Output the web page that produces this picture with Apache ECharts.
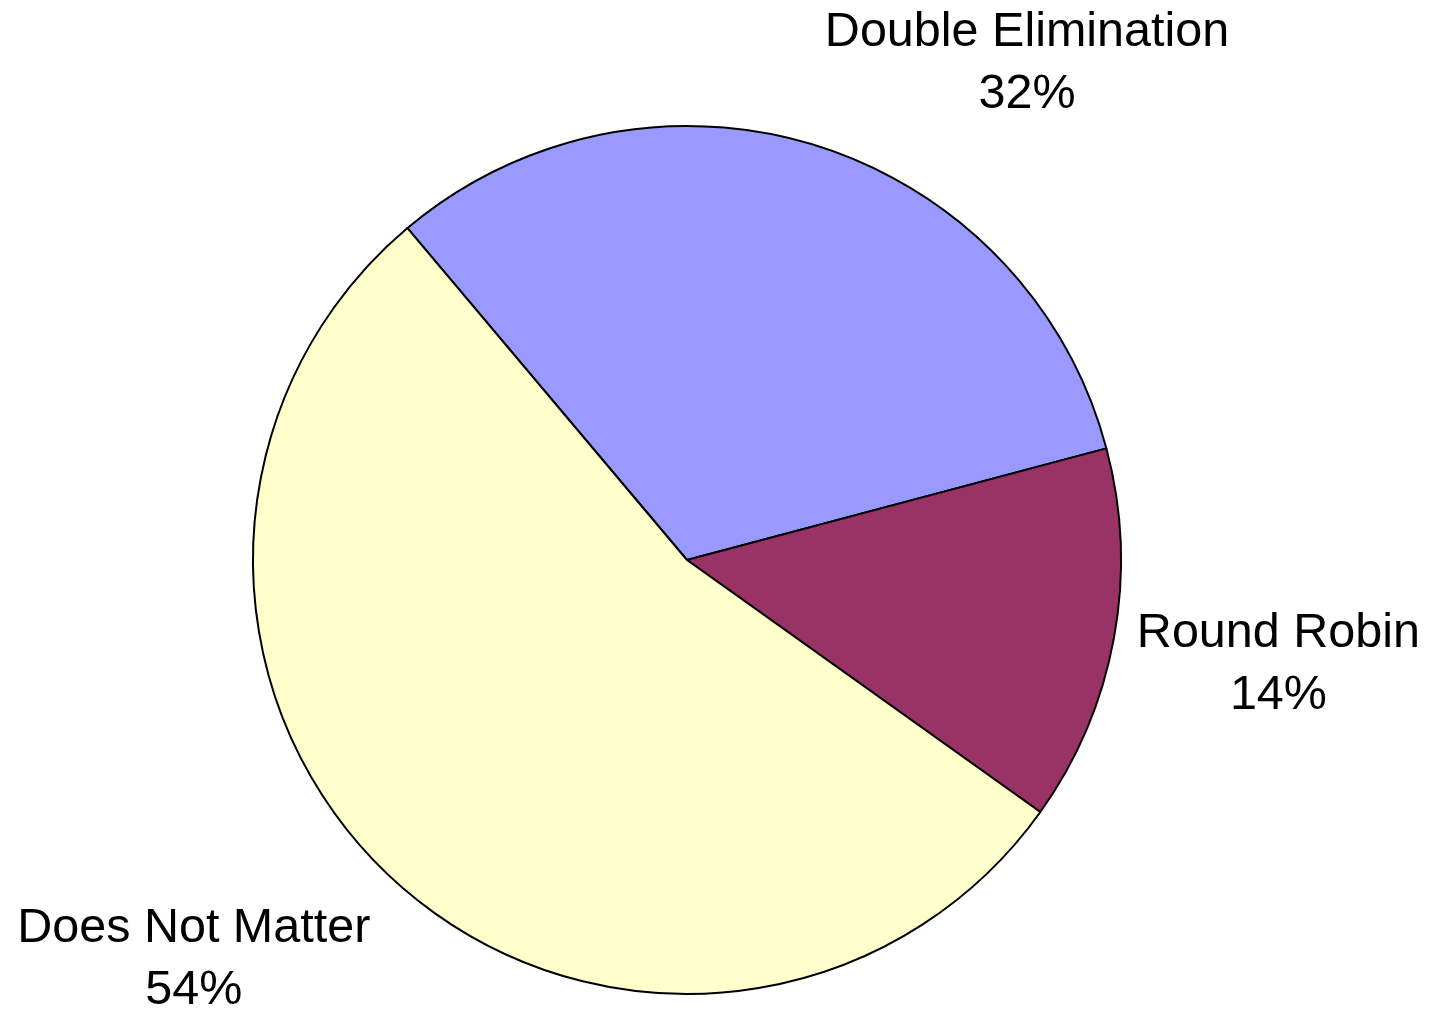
<!DOCTYPE html>
<html>
<head>
<meta charset="utf-8">
<title>Pie</title>
<script src="https://cdn.jsdelivr.net/npm/echarts@6/dist/echarts.min.js"></script>
<style>
    html, body { margin: 0; padding: 0; background: #fff; }
    #pie-chart { width: 1431px; height: 1016px; }
</style>
</head>
<body>
<div id="pie-chart"></div>
<script>
    // data
    var categories = ['Double Elimination', 'Round Robin', 'Does Not Matter'];
    var shares = [32, 14, 54];
    var sliceColors = ['#9999ff', '#993366', '#ffffcc'];

    // where the labels sit: angle clockwise from 12 o'clock, distance from pie centre
    var labelAngle = [34.2, 99.7, 231.3];
    var labelDist = [605, 600, 632];

    var cx = 687, cy = 560, r = 434;

    var chart = echarts.init(document.getElementById('pie-chart'));

    var pieData = categories.map(function (name, i) {
        return {name: name, value: shares[i], itemStyle: {color: sliceColors[i]}};
    });

    chart.setOption({
        backgroundColor: '#fff',
        animation: false,
        series: [{
            type: 'pie',
            center: [cx, cy],
            radius: r,
            startAngle: 130.1,
            clockwise: true,
            avoidLabelOverlap: false,
            data: pieData,
            itemStyle: {
                borderColor: '#000',
                borderWidth: 2
            },
            label: {
                show: true,
                position: 'outside',
                color: '#000',
                fontFamily: '"Liberation Sans", Arial, sans-serif',
                fontSize: 48.5,
                lineHeight: 62,
                formatter: function (p) {
                    return p.name + '\n' + Math.round(p.percent) + '%';
                }
            },
            labelLine: {show: false},
            labelLayout: function (params) {
                var i = params.dataIndex;
                var a = labelAngle[i] * Math.PI / 180;
                return {
                    x: cx + labelDist[i] * Math.sin(a),
                    y: cy - labelDist[i] * Math.cos(a) + 4,
                    align: 'center',
                    verticalAlign: 'middle'
                };
            },
            emphasis: {disabled: true}
        }]
    });
</script>
</body>
</html>
